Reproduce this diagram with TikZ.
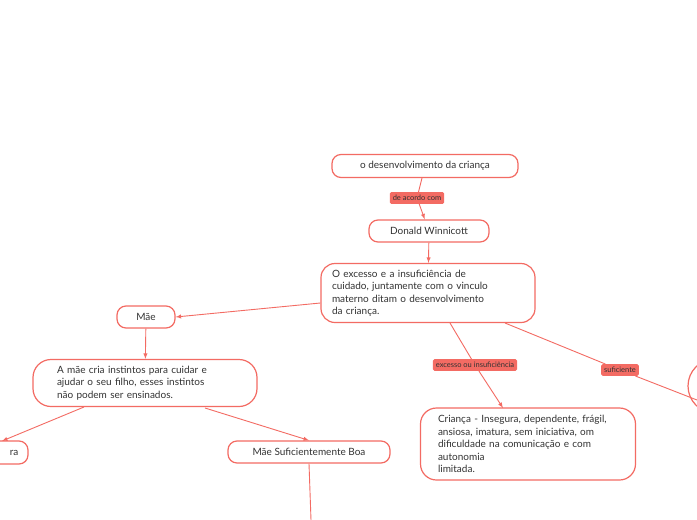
\documentclass[tikz,border=0pt]{standalone}
\usepackage{fontspec}
\setmainfont{Lato}
\definecolor{rd}{HTML}{F36B63}
\definecolor{tx}{HTML}{333333}
\begin{document}
\begin{tikzpicture}[x=1pt,y=-1pt,
  box/.style={draw=rd,line width=1.2pt,rounded corners=9pt,fill=white,text=tx,font=\fontsize{10}{12.5}\selectfont,inner sep=3pt},
  lbl/.style={fill=rd,rounded corners=1.5pt,text=tx,font=\fontsize{7.5}{9}\selectfont,inner sep=3pt},
  con/.style={draw=rd,line width=0.9pt},
  arr/.style={con,-latex}]
\useasboundingbox (0,0) rectangle (697,520);
\fill[white] (0,0) rectangle (697,520);
\node[box,minimum width=186pt,minimum height=23pt] (top) at (425,166) {o desenvolvimento da criança};
\node[lbl] (l1) at (417,198) {de acordo com};
\node[box,minimum width=120pt,minimum height=22pt] (dw) at (429,231) {Donald Winnicott};
\node[box,minimum width=214pt,minimum height=59pt,text width=192pt,align=left,rounded corners=14pt] (ex) at (428,293) {\parbox{165pt}{\raggedright O excesso e a insuficiência de cuidado, juntamente com o vinculo materno ditam o desenvolvimento da criança.}};
\node[box,minimum width=58pt,minimum height=22pt] (mae) at (146,317) {Mãe};
\node[box,minimum width=224pt,minimum height=47pt,text width=176pt,align=left,rounded corners=18pt] (cria) at (145,383) {\parbox{176pt}{\raggedright A mãe cria instintos para cuidar e ajudar o seu filho, esses instintos\\ não podem ser ensinados.}};
\node[box,minimum width=162pt,minimum height=22pt] (msb) at (309,452) {Mãe Suficientemente Boa};
\draw[draw=rd,line width=1.2pt,rounded corners=9pt,fill=white] (-20,441) rectangle (28,464);
\node[text=tx,font=\fontsize{10}{12}\selectfont,anchor=east] (ra) at (22,453) {ra};
\coordinate (raN) at (2,441);
\node[lbl] (l2) at (475,365) {excesso ou insuficiência};
\node[box,minimum width=215pt,minimum height=72pt,text width=180pt,align=left,rounded corners=16pt] (cr) at (528,444) {\parbox{170pt}{\raggedright Criança - Insegura, dependente, frágil, ansiosa, imatura, sem iniciativa, om dificuldade na comunicação e com autonomia\\ limitada.}};
\node[lbl] (l3) at (620,370) {suficiente};
\draw[draw=rd,line width=1.2pt,fill=white] (715,413) arc[start angle=90,end angle=270,radius=27];
\coordinate (rb) at (697,400);
\coordinate (bot) at (311,520);
\draw[con] (top) -- (l1);
\draw[arr] (l1) -- (dw);
\draw[arr] (dw) -- (ex);
\draw[arr] (ex.west|-0,303) -- (mae.east);
\draw[arr] (mae) -- (cria);
\draw[arr] (84,407) -- (raN);
\draw[arr] (205,408) -- (msb.north);
\draw[con] (msb.south) -- (bot);
\draw[con] (450,323) -- (l2);
\draw[arr] (l2) -- (503,408);
\draw[con] (505,323) -- (l3);
\draw[con] (l3) -- (rb);
\end{tikzpicture}
\end{document}
